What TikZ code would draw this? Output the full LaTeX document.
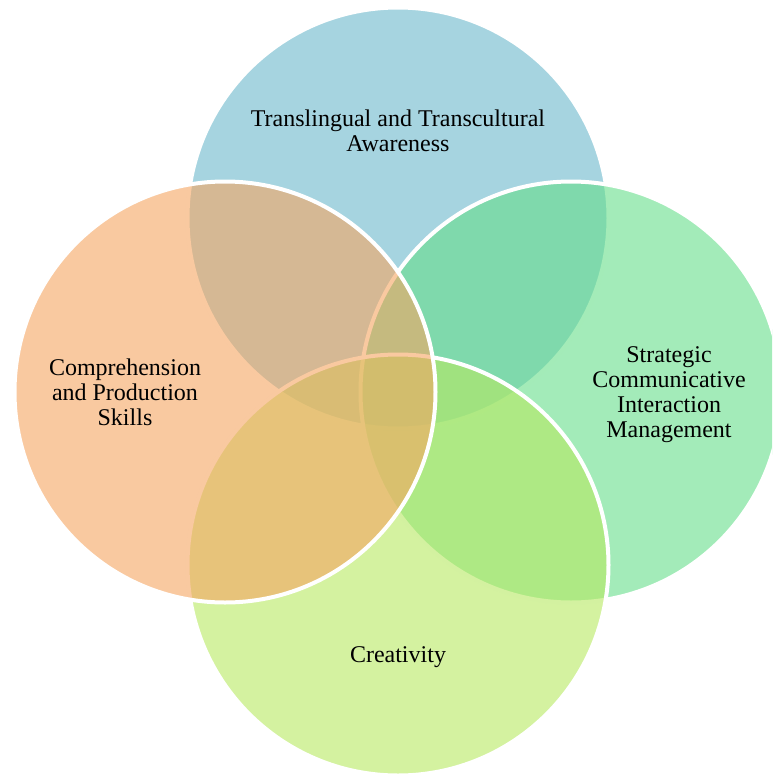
\documentclass[tikz,border=0pt]{standalone}
\usepackage{fontspec}
\setmainfont{Liberation Serif}
\usetikzlibrary{positioning}

% base colours, shown lighter through the fill opacity
\definecolor{awareBlue}{RGB}{107,183,203}
\definecolor{skillOrange}{RGB}{245,165,97}
\definecolor{stratGreen}{RGB}{102,222,138}
\definecolor{creaLime}{RGB}{183,233,97}

\begin{document}
\begin{tikzpicture}[
		x=1pt, y=-1pt,
		% Style for the overlapping circles
		ring/.style={circle, minimum size=421pt, inner sep=0pt, draw=white, line width=4pt, fill opacity=0.6},
		% Labels inside the circles
		ring label/.style={font=\fontsize{24}{25}\selectfont, align=center, text=black}
		]

	\useasboundingbox (0,0) rectangle (772,774);
	\clip (0,0) rectangle (772,774);

	% Circles, back to front
	\node[ring, fill=awareBlue] (aware) at (398,218) {};
	\node[ring, fill=stratGreen] (strat) at (571,392) {};
	\node[ring, fill=creaLime] (crea) at (398,565) {};
	\node[ring, fill=skillOrange] (skill) at (225,392) {};

	% Texts
	\node[ring label] (awareText) at (398,131) {Translingual and Transcultural\\Awareness};
	\node[ring label] (stratText) at (669,395) {Strategic\\Communicative\\Interaction\\Management};
	\node[ring label] (creaText) at (398,657) {Creativity};
	\node[ring label] (skillText) at (125,392) {Comprehension\\and Production\\Skills};
\end{tikzpicture}
\end{document}
